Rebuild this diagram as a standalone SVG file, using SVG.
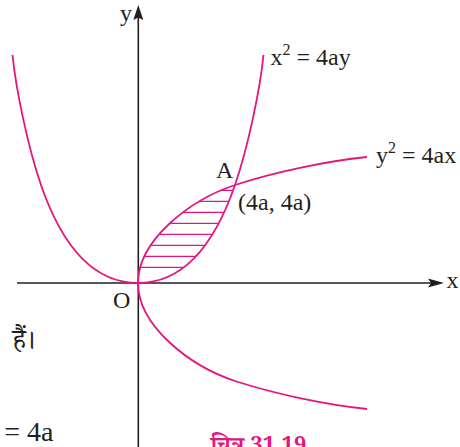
<svg xmlns="http://www.w3.org/2000/svg" width="460" height="447" viewBox="0 0 460 447">
<style>
.ax{stroke:#231f20;stroke-width:1.6;fill:none}
.ah{fill:#231f20;stroke:none}
.cv{stroke:#e4157e;stroke-width:1.8;fill:none}
.ht{stroke:#e4157e;stroke-width:1.2}
.t{font-family:"Liberation Serif","Times New Roman",serif;font-size:24px;fill:#231f20}
.hi{font-family:"Noto Serif Devanagari","Noto Sans Devanagari","Liberation Serif",serif;font-size:28px;fill:#231f20}
.big{font-size:28px}
.cap{font-family:"Noto Serif Devanagari","Noto Sans Devanagari","Liberation Serif",serif;font-size:22px;font-weight:bold;fill:#e4157e}
</style>
<defs>
<clipPath id="region"><path d="M138,283 C138,240 190,200 235,185 C215,243 185,283 138,283 Z"/></clipPath>
</defs>
<g id="axes">
<line class="ax" x1="17" y1="283" x2="432" y2="283"/>
<path class="ah" d="M444,283 L428,278.5 L431,283 L428,287.5 Z"/>
<line class="ax" x1="138.3" y1="447" x2="138.3" y2="16"/>
<path class="ah" d="M138.3,5 L143.3,20 L138.3,17.5 L133.3,20 Z"/>
</g>
<g id="hatching" clip-path="url(#region)">
<line class="ht" x1="130" y1="190.4" x2="245" y2="190.4"/>
<line class="ht" x1="130" y1="201.4" x2="245" y2="201.4"/>
<line class="ht" x1="130" y1="212.4" x2="245" y2="212.4"/>
<line class="ht" x1="130" y1="223.4" x2="245" y2="223.4"/>
<line class="ht" x1="130" y1="234.4" x2="245" y2="234.4"/>
<line class="ht" x1="130" y1="245.4" x2="245" y2="245.4"/>
<line class="ht" x1="130" y1="256.4" x2="245" y2="256.4"/>
<line class="ht" x1="130" y1="267.4" x2="245" y2="267.4"/>
</g>
<g id="curves">
<path id="parab-y2" class="cv" d="M138,283 C138,240 190,200 235,185 C275,172 327,161 367,157"/>
<path class="cv" transform="translate(0,566) scale(1,-1)" d="M138,283 C138,240 190,200 235,185 C275,172 327,161 367,157"/>
<path id="parab-x2" class="cv" d="M138,283 C185,283 215,243 235,185 C248,147 260,90 263.5,55"/>
<path class="cv" transform="translate(276,0) scale(-1,1)" d="M138,283 C185,283 215,243 235,185 C248,147 260,90 263.5,55"/>
</g>
<g id="labels">
<text class="t" x="120" y="21">y</text>
<text class="t" x="446.5" y="288">x</text>
<text class="t" x="113" y="308">O</text>
<text class="t" x="216" y="178">A</text>
<text class="t" x="238" y="210">(4a, 4a)</text>
<text class="t" x="270.5" y="65">x<tspan font-size="16" dy="-10">2</tspan><tspan dy="10"> = 4ay</tspan></text>
<text class="t" x="376" y="163">y<tspan font-size="16" dy="-10">2</tspan><tspan dy="10"> = 4ax</tspan></text>
<text class="hi" x="12.5" y="349">हैं।</text>
<text class="t big" x="53.5" y="441" text-anchor="end">= 4a</text>
<text class="cap" x="211" y="452">चित्र 31.19</text>
</g>
</svg>
